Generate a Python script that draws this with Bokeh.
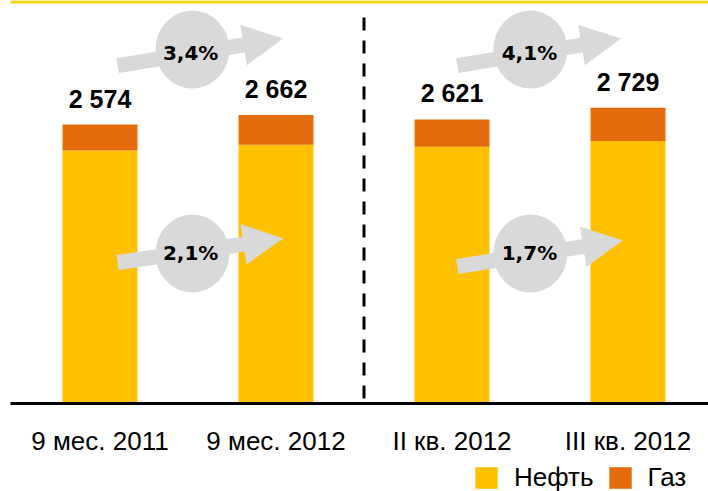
import math
from bokeh.plotting import figure
from bokeh.models import Legend, LegendItem
from bokeh.core.properties import value
from bokeh.embed import file_html
from bokeh.resources import INLINE

# ---- data ----
categories = ["9 мес. 2011", "9 мес. 2012", "II кв. 2012", "III кв. 2012"]
oil = [2334, 2388, 2368, 2422]
gas = [240, 274, 253, 307]
total_labels = ["2 574", "2 662", "2 621", "2 729"]
total_growth = ["3,4%", "4,1%"]
oil_growth = ["2,1%", "1,7%"]
growth_pairs = [(0, 1), (2, 3)]

idx = list(range(len(categories)))
totals = [o + g for o, g in zip(oil, gas)]

# ---- layout constants ----
W, H = 708, 491
KX = 176.0                      # px per category
X0 = -99.5 / KX                 # left edge of frame in data units
X1 = X0 + W / KX
KY = 279.0 / 2574.0             # px per unit
BASE_PX = 403.0                 # baseline position from top
Y1 = BASE_PX / KY
Y0 = -(H - BASE_PX) / KY
XL = X0 + 10.0 / KX             # left end of horizontal rules

YELLOW = "#FFC000"
ORANGE = "#E46C0A"
GREY = "#D9D9D9"
FONT = "Liberation Sans"

p = figure(width=W, height=H, x_range=(X0, X1), y_range=(Y0, Y1),
           output_backend="svg", toolbar_location=None,
           x_axis_location=None, y_axis_location=None,
           min_border=0, outline_line_color=None)
p.xgrid.visible = False
p.ygrid.visible = False
p.background_fill_color = "white"
p.border_fill_color = "white"

# bars
r_oil = p.vbar(x=idx, bottom=0, top=oil, width=0.426, fill_color=YELLOW, line_color=None)
r_gas = p.vbar(x=idx, bottom=oil, top=totals, width=0.426, fill_color=ORANGE, line_color=None)

# total labels
p.text(x=idx, y=totals, text=total_labels, text_align="center", text_baseline="middle",
       y_offset=-26, text_font=value(FONT), text_font_style="bold",
       text_font_size="25px", text_color="#000000")

# dashed separator between the two groups
sep_x = (growth_pairs[0][1] + growth_pairs[1][0]) / 2.0
p.segment(x0=[sep_x], y0=[(BASE_PX - 17) / KY], x1=[sep_x], y1=[0], line_color="#000000",
          line_width=3, line_dash="13 10")

# top gold rule and baseline
p.segment(x0=[XL], y0=[Y1 - 1.5 / KY], x1=[X1], y1=[Y1 - 1.5 / KY],
          line_color="#FFD200", line_width=3)
p.segment(x0=[XL], y0=[0], x1=[X1], y1=[0], line_color="#000000", line_width=3)

# category labels
p.text(x=idx, y=[0] * len(idx), text=categories, text_align="center",
       text_baseline="middle", y_offset=37, text_font=value(FONT),
       text_font_size="26px", text_color="#000000")


def arrow_polygon(x0, y0, x1, y1, shaft=15.0, head_len=40.0, head_w=41.0):
    ax, ay = (x0 - X0) * KX, y0 * KY
    bx, by = (x1 - X0) * KX, y1 * KY
    dx, dy = bx - ax, by - ay
    L = math.hypot(dx, dy)
    ux, uy = dx / L, dy / L
    nx, ny = -uy, ux
    cx, cy = bx - ux * head_len, by - uy * head_len
    pts = [
        (ax + nx * shaft / 2, ay + ny * shaft / 2),
        (cx + nx * shaft / 2, cy + ny * shaft / 2),
        (cx + nx * head_w / 2, cy + ny * head_w / 2),
        (bx, by),
        (cx - nx * head_w / 2, cy - ny * head_w / 2),
        (cx - nx * shaft / 2, cy - ny * shaft / 2),
        (ax - nx * shaft / 2, ay - ny * shaft / 2),
    ]
    return [px / KX + X0 for px, _ in pts], [py / KY for _, py in pts]


# growth arrows (upper: total, lower: oil)
arrow_sets = [
    # (labels, start offsets, end offsets, y start, y end, ellipse y, text y)
    (total_growth, [0.10, 0.03], [0.04, -0.04], [3118, 3118], [3367, 3367], 3266, 3238),
    (oil_growth, [0.10, 0.03], [0.04, -0.03], [1301, 1264], [1522, 1504], 1384, 1384),
]
xs_list, ys_list = [], []
ell_x, ell_y, txt_x, txt_y, txt = [], [], [], [], []
for labels, s_off, e_off, ys0, ys1, ey, ty in arrow_sets:
    for k, (a, b) in enumerate(growth_pairs):
        px, py = arrow_polygon(a + s_off[k], ys0[k], b + e_off[k], ys1[k])
        xs_list.append(px)
        ys_list.append(py)
        mid = (a + b) / 2.0
        ell_x.append(mid + (0.025 if k == 0 else -0.055))
        ell_y.append(ey)
        txt_x.append(mid + (0.015 if k == 0 else -0.06))
        txt_y.append(ty)
        txt.append(labels[k])

p.patches(xs=xs_list, ys=ys_list, fill_color=GREY, line_color=None)
p.ellipse(x=ell_x, y=ell_y, width=74, height=78, width_units="screen",
          height_units="screen", fill_color=GREY, line_color=None)
p.text(x=txt_x, y=txt_y, text=txt, text_align="center", text_baseline="middle",
       text_font=value("DejaVu Sans"), text_font_style="bold", text_font_size="20px",
       text_color="#000000")

legend = Legend(items=[LegendItem(label="Нефть", renderers=[r_oil]),
                       LegendItem(label="Газ", renderers=[r_gas])],
                orientation="horizontal", location=(472, -2),
                glyph_width=28, glyph_height=27, label_standoff=14, spacing=12,
                label_text_font=FONT, label_text_font_size="26px",
                label_text_color="#000000", padding=0, margin=0,
                border_line_color=None, background_fill_alpha=0)
p.add_layout(legend, "center")

open("out.html", "w").write(file_html(p, INLINE))
